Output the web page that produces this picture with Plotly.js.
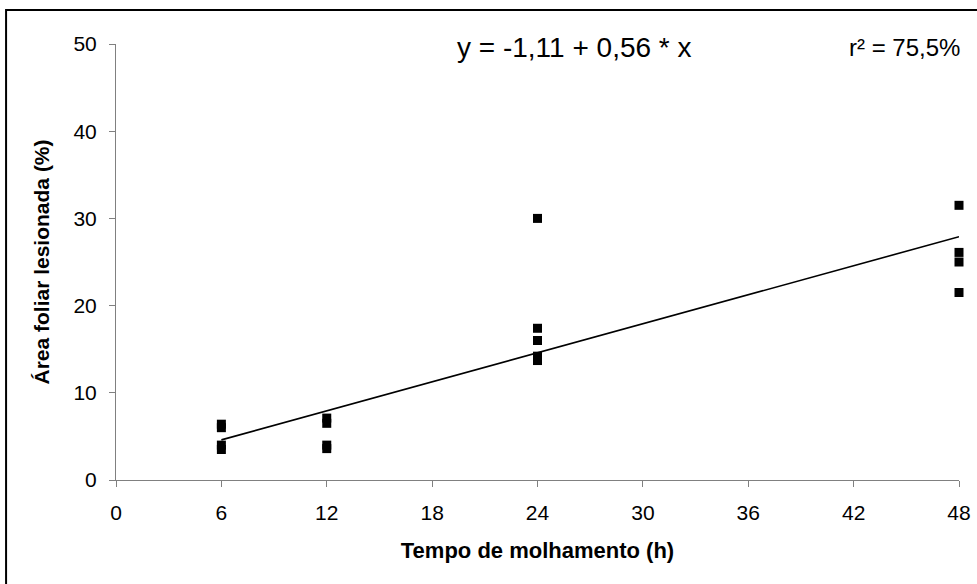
<!DOCTYPE html>
<html>
<head>
<meta charset="utf-8">
<script src="https://cdn.plot.ly/plotly-3.0.1.min.js"></script>
<style>html,body{margin:0;padding:0;background:#fff;}#chart{width:977px;height:584px;}</style>
</head>
<body>
<div id="chart"></div>
<script>
// Observed data (hours of leaf wetness vs. injured leaf area %)
const obsX = [6, 6, 6, 6, 12, 12, 12, 12, 24, 24, 24, 24, 24, 48, 48, 48, 48];
const obsY = [6.4, 6.0, 4.0, 3.5, 7.1, 6.5, 4.0, 3.6, 30.0, 17.4, 16.0, 14.2, 13.7, 31.5, 26.1, 25.0, 21.5];
// Fitted regression line endpoints
const fitX = [6, 48];
const fitY = [4.6, 27.9];
const xTicks = [0, 6, 12, 18, 24, 30, 36, 42, 48];
const yTicks = [0, 10, 20, 30, 40, 50];
const eqText = 'y = -1,11 + 0,56 * x';
const r2Text = 'r² = 75,5%';

const font = 'Liberation Sans, Arial, sans-serif';
const data = [
  {x: fitX, y: fitY, mode: 'lines', type: 'scatter', line: {color: '#000', width: 1.6}, hoverinfo: 'skip', cliponaxis: false},
  {x: obsX, y: obsY, mode: 'markers', type: 'scatter', cliponaxis: false, marker: {symbol: 'square', size: 9, color: '#000'}}
];
const layout = {
  width: 977, height: 584,
  margin: {l: 116, r: 18, t: 44, b: 104},
  paper_bgcolor: '#fff', plot_bgcolor: '#fff',
  showlegend: false,
  font: {family: font, color: '#000', size: 21},
  xaxis: {
    range: [0, 48], tickvals: xTicks, ticktext: xTicks.map(String),
    showgrid: false, zeroline: false, showline: true, linecolor: '#808080', linewidth: 1,
    ticks: 'outside', ticklen: 6, tickcolor: '#808080', tickfont: {size: 21, family: font},
    ticklabelstandoff: 8,
    title: {text: '<b>Tempo de molhamento (h)</b>', font: {size: 22, family: font}, standoff: 19}
  },
  yaxis: {
    range: [0, 50], tickvals: yTicks, ticktext: yTicks.map(String),
    showgrid: false, zeroline: false, showline: true, linecolor: '#808080', linewidth: 1,
    ticks: 'outside', ticklen: 6, tickcolor: '#808080', tickfont: {size: 21, family: font},
    ticklabelstandoff: 8,
    title: {text: '<b>Área foliar lesionada (%)</b>', font: {size: 21, family: font}, standoff: 18}
  },
  annotations: [
    {text: eqText, xref: 'x', yref: 'y', x: 26.1, y: 49.6, showarrow: false, xanchor: 'center', yanchor: 'middle', font: {size: 28, family: font}},
    {text: r2Text, xref: 'paper', yref: 'y', x: 1.004, y: 49.6, showarrow: false, xanchor: 'right', yanchor: 'middle', font: {size: 24, family: font}}
  ],
  shapes: [
    {type: 'rect', xref: 'paper', yref: 'paper', x0: -0.1304, x1: 1.05, y0: -0.3, y1: 1.0778, line: {color: '#000', width: 2}, fillcolor: 'rgba(0,0,0,0)'}
  ]
};
Plotly.newPlot('chart', data, layout, {displayModeBar: false, staticPlot: true});
</script>
</body>
</html>
